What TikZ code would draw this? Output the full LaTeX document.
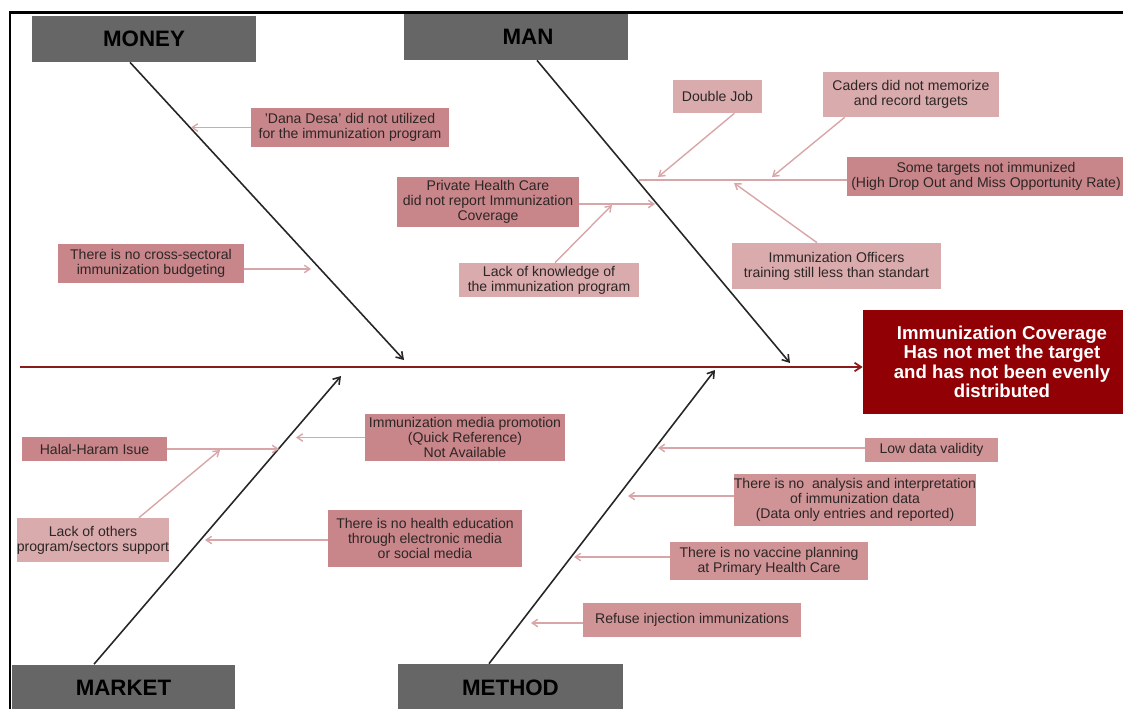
\documentclass[tikz,border=0pt]{standalone}
\usepackage{fontspec}
\setmainfont{Liberation Sans}
\usepackage{tikz}
\usetikzlibrary{arrows.meta}
\definecolor{headgray}{RGB}{102,102,102}
\definecolor{effectred}{RGB}{145,0,4}
\definecolor{spinered}{RGB}{139,26,26}
\definecolor{causedark}{RGB}{201,134,138}
\definecolor{causemid}{RGB}{208,148,151}
\definecolor{causelight}{RGB}{218,171,173}
\definecolor{twig}{RGB}{216,166,168}
\definecolor{causetext}{RGB}{45,38,38}

\begin{document}
\begin{tikzpicture}[x=0.02cm, y=-0.02cm,
    category/.style={rectangle, fill=headgray, inner sep=0pt, text=black, font=\fontsize{12.7}{14}\selectfont\bfseries},
    cause/.style={rectangle, fill=causedark, inner sep=0pt, align=center, text=causetext, font=\fontsize{8}{8.6}\selectfont},
    effect/.style={rectangle, fill=effectred, inner sep=0pt, align=center, text=white, font=\fontsize{10.6}{11.1}\selectfont\bfseries},
    bone/.style={line width=0.9pt, black!85, -{Straight Barb[length=1.3mm, width=1.7mm]}},
    spine/.style={line width=1pt, spinered, -{Straight Barb[length=1.3mm, width=1.7mm]}},
    twigarrow/.style={line width=0.8pt, twig, -{Straight Barb[length=1.1mm, width=1.5mm]}},
    twigline/.style={line width=0.8pt, twig}]

    \clip (0,0) rectangle (1123,708);
    \draw[line width=1.7pt] (10,712) -- (10,12) -- (1127,12);

    % heads of the fish bones
    \node[category, minimum width=4.48cm, minimum height=0.92cm] (money) at (144,39) {MONEY\hspace{0.36cm}};
    \node[category, minimum width=4.48cm, minimum height=0.92cm] (man) at (516,37) {\hspace{0.48cm}MAN};
    \node[category, minimum width=4.46cm, minimum height=0.94cm] (market) at (123.5,688) {MARKET\hspace{0.28cm}};
    \node[category, minimum width=4.5cm, minimum height=0.96cm] (method) at (510.5,688) {METHOD\hspace{0.52cm}};

    \node[effect, minimum width=5.56cm, minimum height=2.08cm] (effect) at (1002,362)
        {Immunization Coverage\\Has not met the target\\and has not been evenly\\distributed};

    % money
    \node[cause, minimum width=3.96cm, minimum height=0.78cm] (dana) at (350,127.5)
        {'Dana Desa' did not utilized\\for the immunization program};
    \node[cause, minimum width=3.72cm, minimum height=0.78cm] (budget) at (151,263.5)
        {There is no cross-sectoral\\immunization budgeting};

    % man
    \node[cause, fill=causelight, minimum width=1.78cm, minimum height=0.66cm] (doublejob) at (717.5,96.5) {Double Job};
    \node[cause, fill=causelight, minimum width=3.52cm, minimum height=0.9cm] (caders) at (911,94.5)
        {Caders did not memorize\\and record targets};
    \node[cause, minimum width=5.56cm, minimum height=0.78cm] (targets) at (986,176.5)
        {Some targets not immunized\\(High Drop Out and Miss Opportunity Rate)};
    \node[cause, minimum width=3.64cm, minimum height=1cm] (private) at (488,202)
        {Private Health Care\\did not report Immunization\\Coverage};
    \node[cause, fill=causelight, minimum width=3.6cm, minimum height=0.68cm] (knowledge) at (549,280)
        {Lack of knowledge of\\the immunization program};
    \node[cause, fill=causelight, minimum width=4.18cm, minimum height=0.92cm] (officers) at (836.5,266)
        {Immunization Officers\\training still less than standart};

    % market
    \node[cause, minimum width=2.9cm, minimum height=0.48cm] (halal) at (94.5,449) {Halal-Haram Isue};
    \node[cause, fill=causelight, minimum width=3.04cm, minimum height=0.88cm] (others) at (93,540)
        {Lack of others\\program/sectors support};
    \node[cause, minimum width=4cm, minimum height=0.94cm] (media) at (465,437.5)
        {Immunization media promotion\\(Quick Reference)\\Not Available};
    \node[cause, minimum width=3.88cm, minimum height=1.14cm] (healthedu) at (425,538.5)
        {There is no health education\\through electronic media\\or social media};

    % method
    \node[cause, fill=causemid, minimum width=2.66cm, minimum height=0.48cm] (lowdata) at (931.5,450) {Low data validity};
    \node[cause, fill=causemid, minimum width=4.84cm, minimum height=1.04cm] (analysis) at (855,500)
        {There is no \ analysis and interpretation\\of immunization data\\(Data only entries and reported)};
    \node[cause, fill=causemid, minimum width=3.96cm, minimum height=0.76cm] (vaccine) at (769,561)
        {There is no vaccine planning\\at Primary Health Care};
    \node[cause, fill=causemid, minimum width=4.36cm, minimum height=0.68cm] (refuse) at (692,620)
        {Refuse injection immunizations};

    % spine and bones
    \coordinate (tail) at (20,367);
    \draw[spine] (tail) -- (effect.west |- tail);

    \coordinate (moneytip) at (404,360);
    \coordinate (mantip) at (790,363);
    \coordinate (markettip) at (341,376);
    \coordinate (methodtip) at (715,370);
    \draw[bone] ([xshift=-0.28cm]money.south) -- (moneytip);
    \draw[bone] ([xshift=0.42cm]man.south) -- (mantip);
    \draw[bone] ([xshift=-0.59cm]market.north) -- (markettip);
    \draw[bone] ([xshift=-0.43cm]method.north) -- (methodtip);

    % twigs
    \coordinate (danatip) at (191,127.5);
    \coordinate (budgettip) at (311,269);
    \draw[twigarrow] (dana) -- (danatip);
    \draw[twigarrow] (budget.east |- budgettip) -- (budgettip);

    \coordinate (manjoint) at (639,180);
    \coordinate (jobtip) at (658,177);
    \coordinate (caderstip) at (772,177);
    \coordinate (officerstip) at (734,183);
    \coordinate (privatetip) at (655,204);
    \coordinate (knowtip) at (612,205);
    \draw[twigline] (targets.west |- manjoint) -- (manjoint);
    \draw[twigarrow] (doublejob.-45) -- (jobtip);
    \draw[twigarrow] ([xshift=0.44cm]caders.south west) -- (caderstip);
    \draw[twigarrow] ([xshift=-0.39cm]officers.north) -- (officerstip);
    \draw[twigarrow] (private.east |- privatetip) -- (privatetip);
    \draw[twigarrow] ([xshift=0.12cm]knowledge.north) -- (knowtip);

    \coordinate (halaltip) at (279,449);
    \coordinate (otherstip) at (220,450);
    \coordinate (mediatip) at (296,437.5);
    \coordinate (edutip) at (205,540);
    \draw[twigarrow] (halal) -- (halaltip);
    \draw[twigarrow] ([xshift=0.92cm]others.north) -- (otherstip);
    \draw[twigarrow] (media) -- (mediatip);
    \draw[twigarrow] (healthedu.west |- edutip) -- (edutip);

    \coordinate (lowtip) at (658,448);
    \coordinate (analysistip) at (628,496);
    \coordinate (vaccinetip) at (574,557);
    \coordinate (refusetip) at (531,623);
    \draw[twigarrow] (lowdata.west |- lowtip) -- (lowtip);
    \draw[twigarrow] (analysis.west |- analysistip) -- (analysistip);
    \draw[twigarrow] (vaccine.west |- vaccinetip) -- (vaccinetip);
    \draw[twigarrow] (refuse.west |- refusetip) -- (refusetip);
\end{tikzpicture}
\end{document}
